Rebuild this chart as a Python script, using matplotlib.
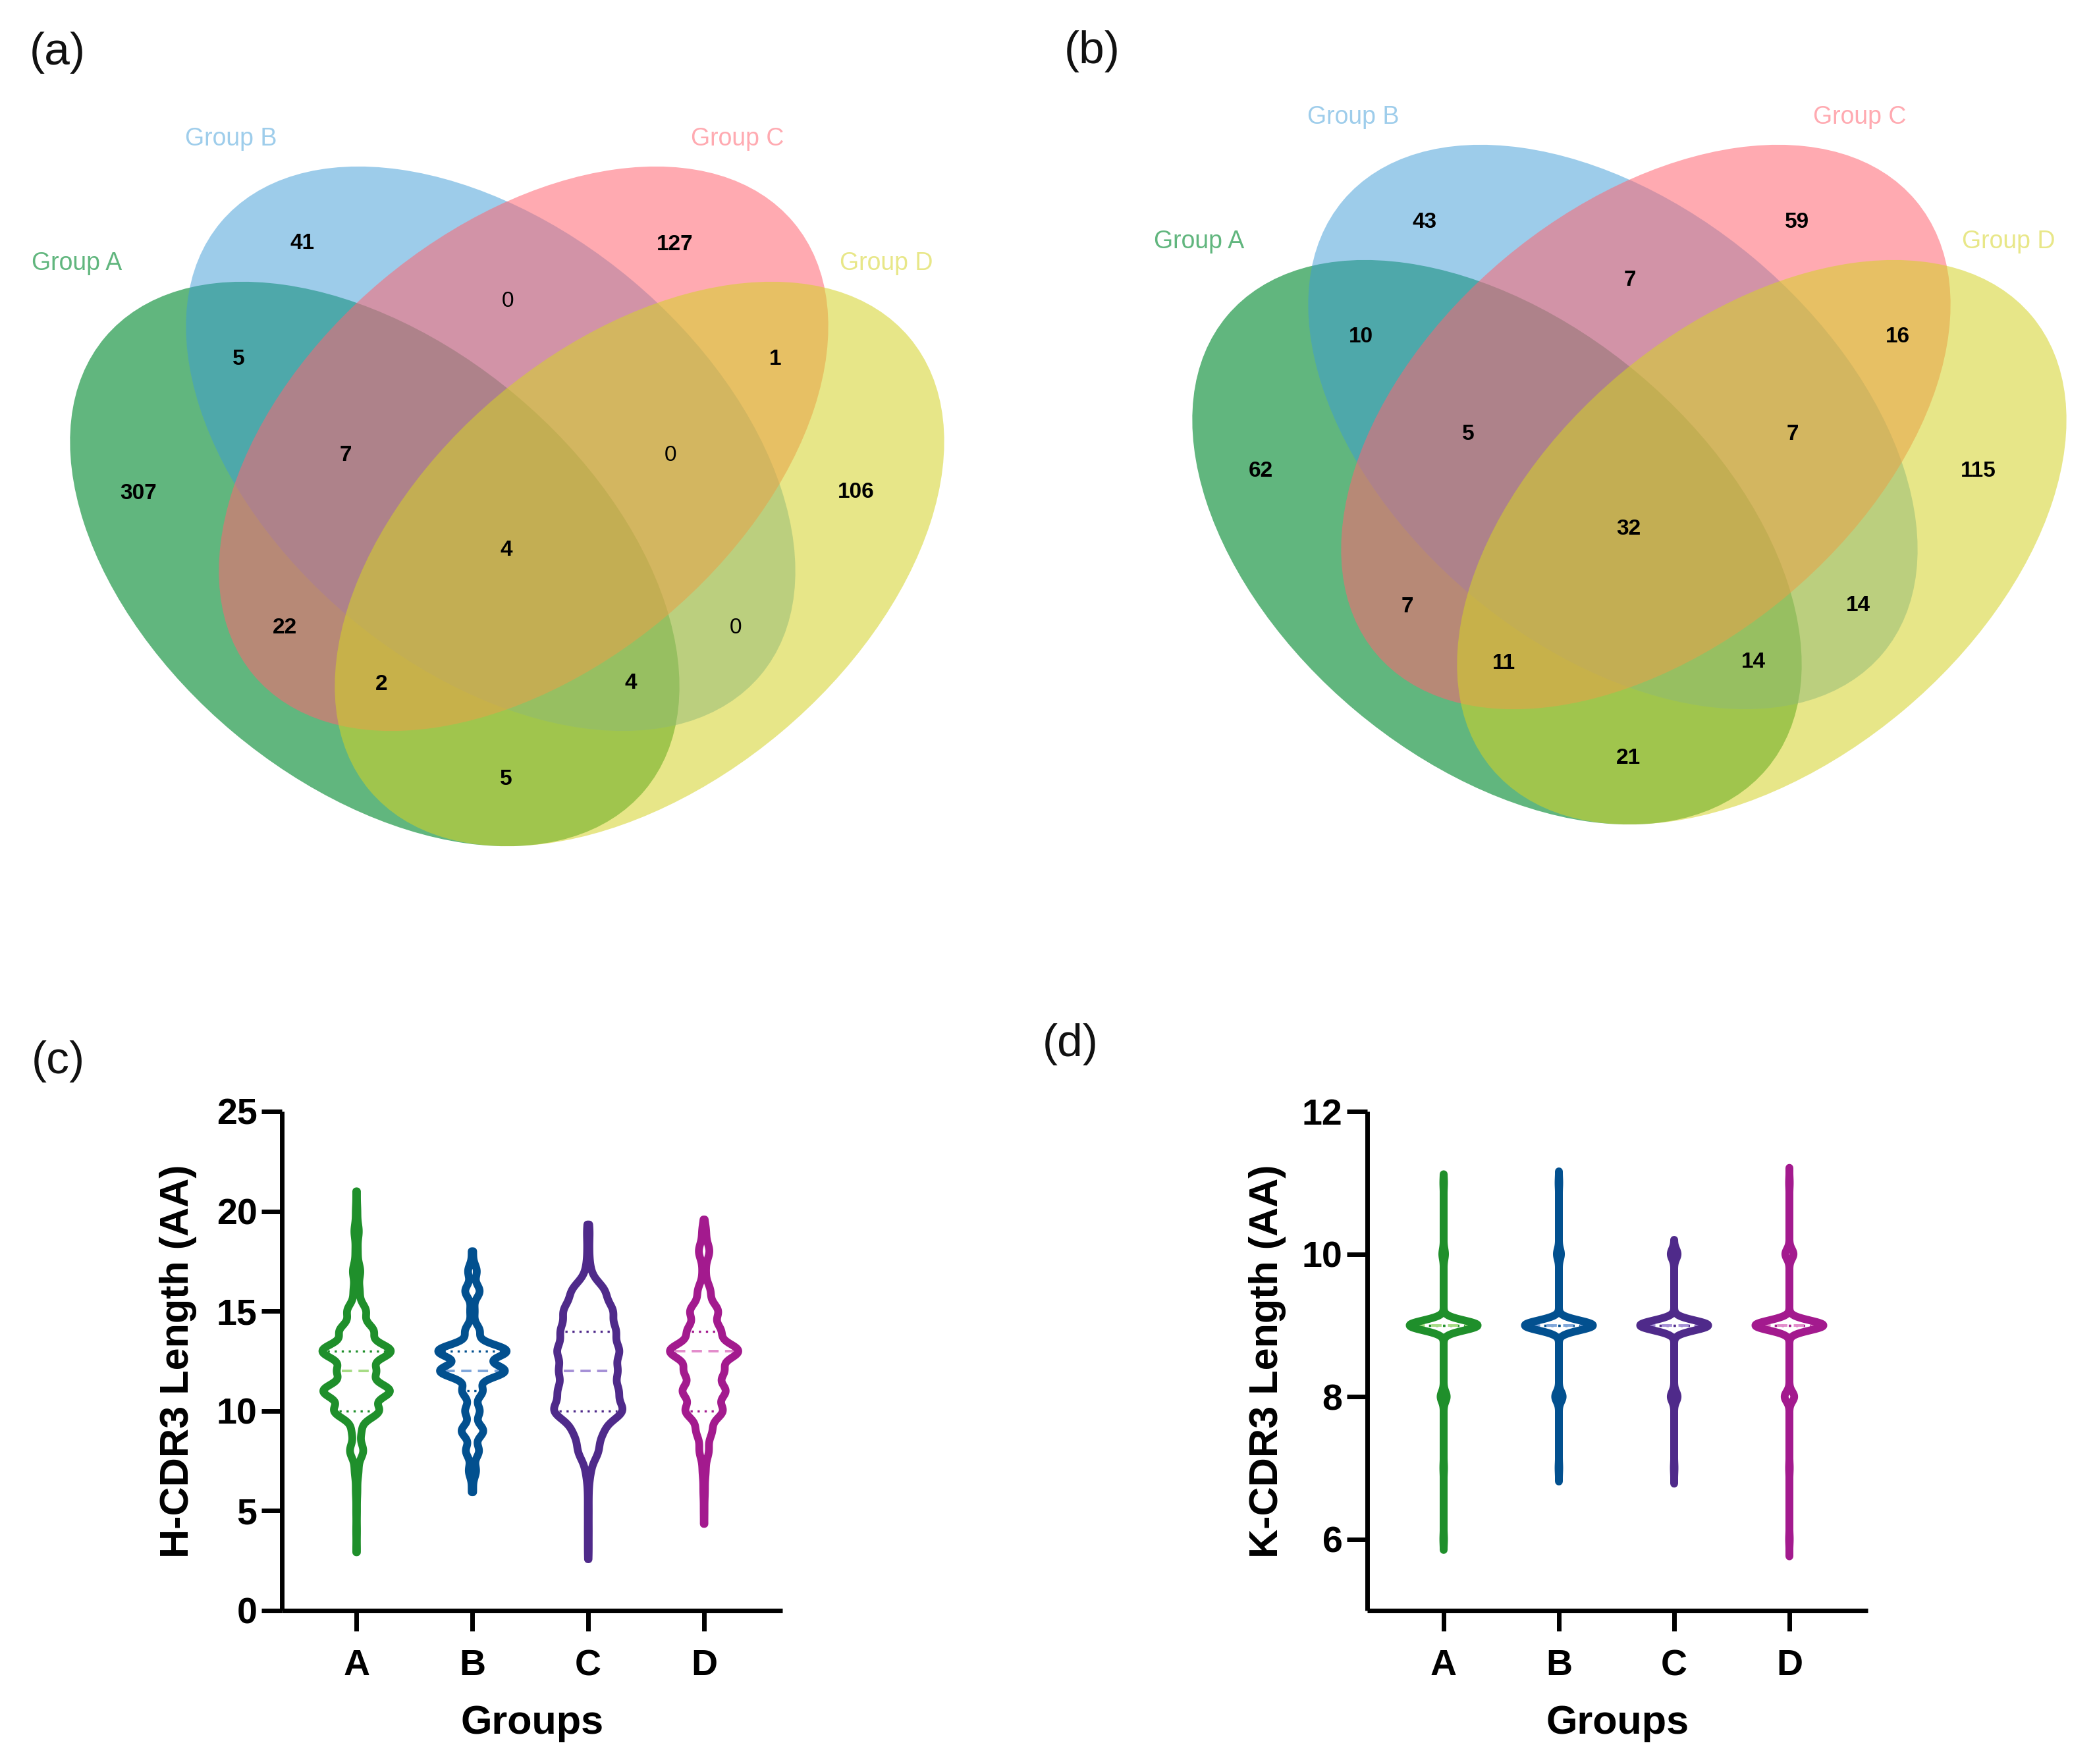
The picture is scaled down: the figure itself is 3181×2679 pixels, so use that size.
import numpy as np
import matplotlib
matplotlib.use("Agg")
import matplotlib.pyplot as plt
from matplotlib.patches import Ellipse

plt.rcParams['font.family'] = ['Liberation Sans', 'DejaVu Sans']

# ---------------- Venn data ----------------
set_names = ["Group A", "Group B", "Group C", "Group D"]
regions = ["A", "B", "C", "D", "AB", "BC", "CD", "ABC", "BCD", "ABCD",
           "AC", "BD", "ACD", "ABD", "AD"]
counts_heavy = [307, 41, 127, 106, 5, 0, 1, 7, 0, 4, 22, 0, 2, 4, 5]
counts_kappa = [62, 43, 59, 115, 10, 7, 16, 5, 7, 32, 7, 14, 11, 14, 21]

# ---------------- Violin data ----------------
groups = ["A", "B", "C", "D"]
h_lengths = list(range(3, 22))
h_counts_A = [1, 1, 1, 2, 5, 18, 12, 60, 90, 50, 93, 45, 25, 8, 10, 3, 6, 2, 1]
h_counts_B = [0, 0, 0, 2, 10, 18, 30, 20, 28, 90, 95, 20, 6, 20, 12, 2, 0, 0, 0]
h_counts_C = [1, 1, 1, 1, 5, 22, 30, 75, 62, 60, 65, 57, 52, 36, 5, 2, 3, 0, 0]
h_counts_D = [0, 1, 1, 2, 4, 12, 20, 48, 55, 50, 90, 42, 36, 16, 4, 14, 5, 0, 0]
h_min = [2.92, 5.93, 2.57, 4.34]
h_max = [21.0, 18.0, 19.34, 19.59]
h_q1 = [10, 11, 10, 10]
h_median = [12, 12, 12, 13]
h_q3 = [13, 13, 14, 14]

k_lengths = [6, 7, 8, 9, 10, 11]
k_counts_A = [1, 1, 9, 100, 4, 1]
k_counts_B = [0, 1, 11, 100, 6, 1]
k_counts_C = [0, 1, 10, 100, 10, 0]
k_counts_D = [1, 1, 14, 100, 12, 1]
k_min = [5.85, 6.81, 6.78, 5.76]
k_max = [11.12, 11.16, 10.2, 11.21]
k_q1 = [9, 9, 9, 9]
k_median = [9, 9, 9, 9]
k_q3 = [9, 9, 9, 9]

# ---------------- Styles ----------------
venn_fill = [(0/255, 137/255, 47/255), (61/255, 155/255, 215/255),
             (255/255, 100/255, 113/255), (213/255, 211/255, 38/255)]
venn_alpha = [0.62, 0.5, 0.55, 0.55]
venn_label_col = ["#61B67E", "#9ECDEB", "#FFAAB1", "#E8E788"]
vcolors = ["#1F8F2B", "#02508F", "#4F2A8A", "#A31A8E"]
med_colors = ["#A6DC84", "#7FA6DA", "#A590D6", "#E38CCB"]

W, H = 3181, 2679
fig = plt.figure(figsize=(W / 100, H / 100), dpi=100)
fig.patch.set_facecolor("white")

# overlay axes in pixel coordinates for Venn panels
axv = fig.add_axes([0, 0, 1, 1])
axv.set_xlim(0, W)
axv.set_ylim(H, 0)
axv.axis("off")

ell_centers = [(569, 856.5), (745, 681.5), (795, 681.5), (971, 856.5)]
ell_angles = [40, 40, -40, -40]
ell_w, ell_h = 1070, 668
label_pos = [(117, 400), (351, 211), (1120, 211), (1346, 400)]
region_pos = {"A": (210, 749), "B": (459, 370), "C": (1025, 371), "D": (1300, 748),
              "AB": (362, 545), "BC": (771, 458), "CD": (1177, 545),
              "ABC": (525, 692), "BCD": (1018, 692), "ABCD": (769, 836),
              "AC": (433, 954), "BD": (1117, 953), "ACD": (579, 1040),
              "ABD": (958, 1038), "AD": (768, 1184)}
panel_offsets = [(0, 0), (1704, -33)]
panel_counts = [counts_heavy, counts_kappa]

for (ox, oy), cnts in zip(panel_offsets, panel_counts):
    for i in range(4):
        cx, cy = ell_centers[i]
        e = Ellipse((cx + ox, cy + oy), ell_w, ell_h, angle=ell_angles[i],
                    facecolor=venn_fill[i], alpha=venn_alpha[i], edgecolor="none",
                    zorder=1 + i)
        axv.add_patch(e)
        lx, ly = label_pos[i]
        axv.text(lx + ox, ly + oy, set_names[i], color=venn_label_col[i],
                 fontsize=27, ha="center", va="center", zorder=10)
    for r, n in zip(regions, cnts):
        x, y = region_pos[r]
        axv.text(x + ox, y + oy, str(n), fontsize=24,
                 fontweight="bold" if n > 0 else "normal",
                 ha="center", va="center", color="black", zorder=10)

for txt, (x, y) in zip(["(a)", "(b)", "(c)", "(d)"],
                       [(87, 80), (1658, 78), (88, 1612), (1625, 1586)]):
    axv.text(x, y, txt, fontsize=50, ha="center", va="center", color="#111111")


def kde_stats(lengths, counts, lo, hi, bw):
    coords = np.linspace(lo, hi, 1500)
    L = np.asarray(lengths, float)[:, None]
    C = np.asarray(counts, float)[:, None]
    vals = (C * np.exp(-0.5 * ((coords[None, :] - L) / bw) ** 2)).sum(0)
    data = np.repeat(lengths, counts)
    return dict(coords=coords, vals=vals, mean=float(np.mean(data)),
                median=float(np.median(data)), min=lo, max=hi)


def draw_violins(ax, stats, q1, med, q3, vwidth, lw, inset):
    parts = ax.violin(stats, positions=range(4), widths=vwidth,
                      showmeans=False, showextrema=False, showmedians=False)
    for body, col in zip(parts["bodies"], vcolors):
        body.set_facecolor("none")
        body.set_edgecolor(col)
        body.set_alpha(1)
        body.set_linewidth(lw)
        try:
            body.set_joinstyle("round")
            body.set_capstyle("round")
        except Exception:
            pass
        body.set_zorder(3)
    for i, st in enumerate(stats):
        vmax = st["vals"].max()
        for yv, kind in [(q1[i], "q"), (q3[i], "q"), (med[i], "m")]:
            hw = 0.5 * vwidth * np.interp(yv, st["coords"], st["vals"]) / vmax - inset
            if hw <= 0:
                continue
            if kind == "q":
                ax.plot([i - hw, i + hw], [yv, yv], color=vcolors[i], lw=2.4,
                        linestyle=(0, (1, 2.2)), zorder=2)
            else:
                ax.plot([i - hw, i + hw], [yv, yv], color=med_colors[i], lw=2.8,
                        linestyle=(0, (4, 2.5)), zorder=2)


def style_axes(ax, ylabel, yticks, ylim, xlim):
    ax.set_xlim(*xlim)
    ax.set_ylim(*ylim)
    for s in ["top", "right"]:
        ax.spines[s].set_visible(False)
    for s in ["left", "bottom"]:
        ax.spines[s].set_linewidth(5)
        ax.spines[s].set_capstyle("butt")
    ax.set_yticks(yticks)
    ax.set_xticks(range(4))
    ax.set_xticklabels(groups)
    ax.tick_params(axis="both", width=5, length=22, labelsize=40)
    ax.tick_params(axis="y", pad=5)
    ax.tick_params(axis="x", pad=20)
    for lab in ax.get_xticklabels() + ax.get_yticklabels():
        lab.set_fontweight("bold")
    ax.set_ylabel(ylabel, fontsize=44, fontweight="bold", va="center")
    ax.set_xlabel("Groups", fontsize=44, fontweight="bold", va="center")
    ax.patch.set_alpha(0)


# panel (c)
axc = fig.add_axes([428 / W, 233 / H, 760 / W, 758 / H])
h_sets = [h_counts_A, h_counts_B, h_counts_C, h_counts_D]
h_bw = [0.38, 0.33, 0.48, 0.40]
stats_c = [kde_stats(h_lengths, c, lo, hi, bw)
           for c, lo, hi, bw in zip(h_sets, h_min, h_max, h_bw)]
draw_violins(axc, stats_c, h_q1, h_median, h_q3, 0.59, 8.5, 0.042)
style_axes(axc, "H-CDR3 Length (AA)", [0, 5, 10, 15, 20, 25], (0, 25), (-0.645, 3.676))
axc.yaxis.set_label_coords(-0.207, 0.5)
axc.xaxis.set_label_coords(0.5, -0.226)

# panel (d)
axd = fig.add_axes([2076 / W, 233 / H, 760 / W, 758 / H])
k_sets = [k_counts_A, k_counts_B, k_counts_C, k_counts_D]
stats_d = [kde_stats(k_lengths, c, lo, hi, 0.07)
           for c, lo, hi in zip(k_sets, k_min, k_max)]
draw_violins(axd, stats_d, k_q1, k_median, k_q3, 0.59, 8.5, 0.042)
style_axes(axd, "K-CDR3 Length (AA)", [6, 8, 10, 12], (5, 12), (-0.663, 3.68))
axd.yaxis.set_label_coords(-0.199, 0.5)
axd.xaxis.set_label_coords(0.5, -0.226)

fig.savefig("out.png", dpi=100, facecolor="white")
